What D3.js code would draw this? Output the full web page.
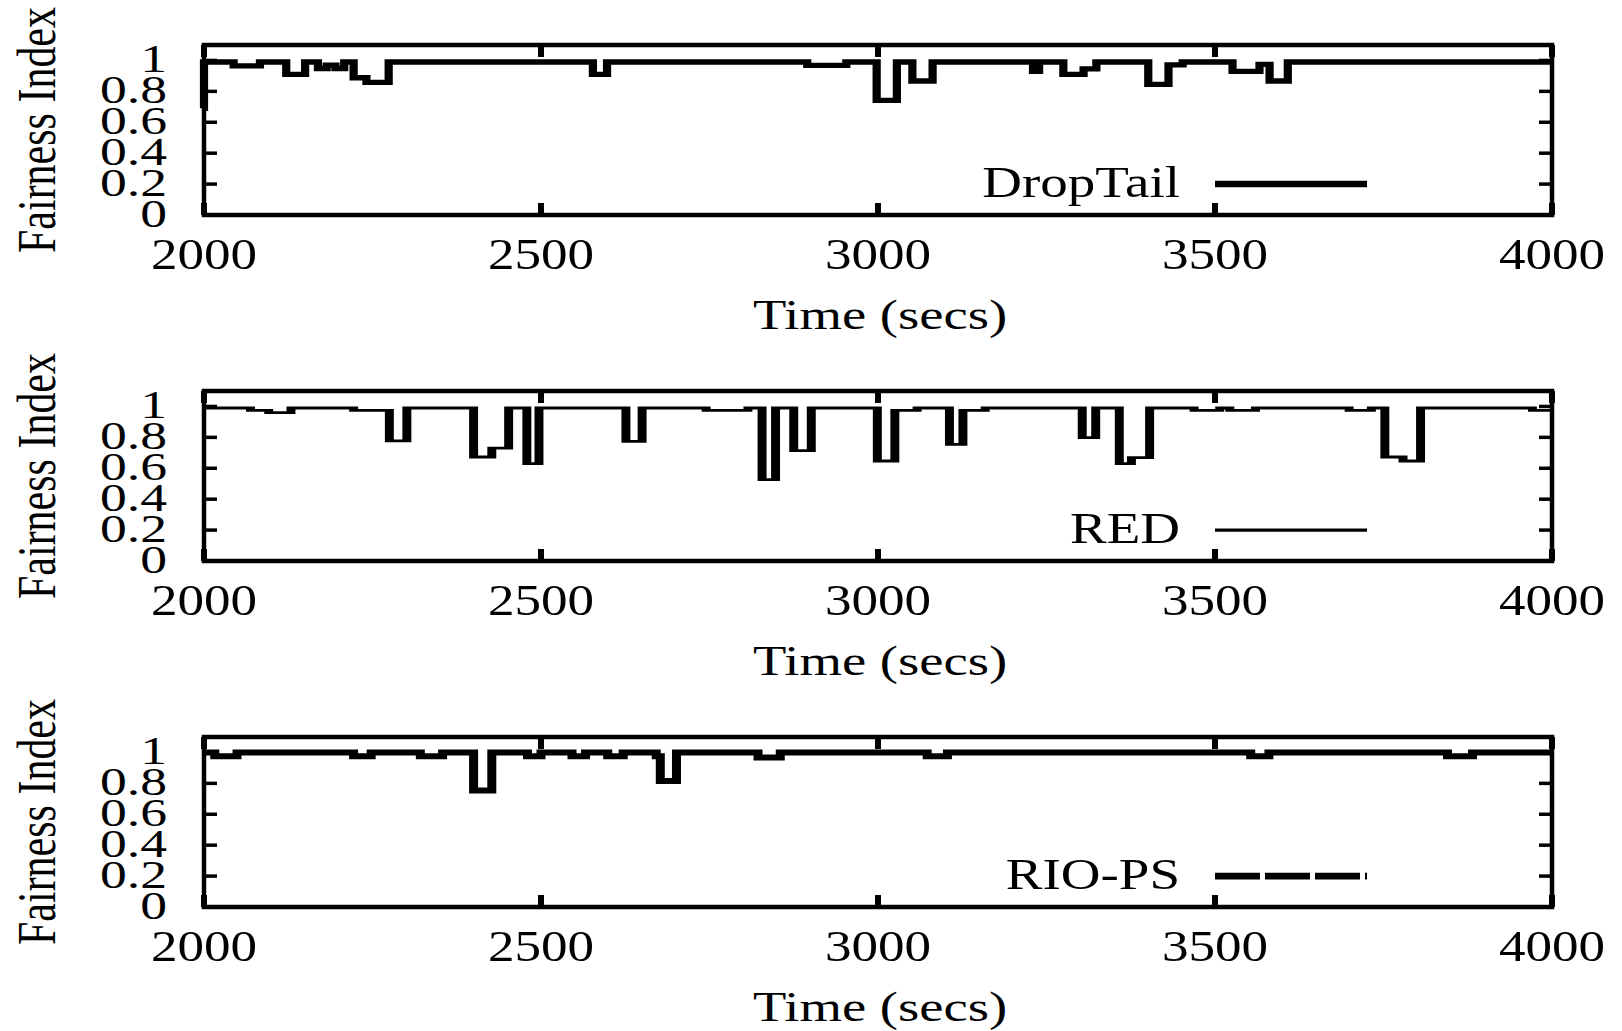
<!DOCTYPE html>
<html>
<head>
<meta charset="utf-8">
<script src="https://cdn.jsdelivr.net/npm/d3@7"></script>
<style>
  html, body { margin: 0; padding: 0; background: #fff; }
  svg { display: block; }
</style>
</head>
<body>
<svg id="chart" width="1622" height="1031"></svg>
<script>
// ---- axes ----
const xDomain = [2000, 4000];
const xTicks = [2000, 2500, 3000, 3500, 4000];
const xTickLabels = ["2000", "2500", "3000", "3500", "4000"];
const yDomain = [0, 1.1];
const yTicks = [0, 0.2, 0.4, 0.6, 0.8, 1];
const yTickLabels = ["0", "0.2", "0.4", "0.6", "0.8", "1"];
const xTitle = "Time (secs)";
const yTitle = "Fairness Index";

// ---- series: each value holds from its time until the next time ----
const seriesNames = ["DropTail", "RED", "RIO-PS"];

const dropTailTimes = [1997, 2000, 2044, 2083, 2122, 2150, 2169, 2182, 2195, 2208, 2222, 2241, 2274,
  2577, 2598, 2895, 2953, 2998, 3028, 3051, 3081, 3230, 3239, 3275, 3305, 3324, 3401, 3431, 3452,
  3526, 3566, 3581, 3608, 4000];
const dropTailValues = [0.69, 0.99, 0.965, 0.99, 0.91, 0.99, 0.948, 0.97, 0.948, 0.99, 0.888, 0.858, 0.99,
  0.91, 0.99, 0.968, 0.99, 0.742, 0.99, 0.867, 0.99, 0.929, 0.99, 0.91, 0.946, 0.99, 0.845, 0.972, 0.99,
  0.929, 0.975, 0.867, 0.99, 0.99];

const redTimes = [2000, 2069, 2096, 2129, 2222, 2275, 2301, 2400, 2427, 2452, 2479, 2497, 2626, 2650,
  2745, 2807, 2828, 2848, 2875, 2901, 2999, 3025, 3058, 3106, 3126, 3159, 3303, 3323, 3358, 3376, 3403,
  3469, 3507, 3522, 3560, 3699, 3732, 3752, 3779, 3805, 3971, 4000];
const redValues = [0.99, 0.975, 0.96, 0.99, 0.975, 0.777, 0.99, 0.673, 0.731, 0.99, 0.63, 0.99, 0.774, 0.99,
  0.975, 0.99, 0.526, 0.99, 0.714, 0.99, 0.647, 0.975, 0.99, 0.755, 0.975, 0.99, 0.798, 0.99, 0.63, 0.669, 0.99,
  0.975, 0.99, 0.975, 0.99, 0.975, 0.99, 0.673, 0.647, 0.99, 0.975, 0.975];

const rioTimes = [2000, 2016, 2049, 2222, 2248, 2321, 2354, 2400, 2427, 2480, 2500, 2546, 2566, 2599,
  2622, 2671, 2677, 2701, 2822, 2855, 3073, 3103, 3553, 3580, 3845, 3882, 4000];
const rioValues = [1.0, 0.975, 1.0, 0.975, 1.0, 0.975, 1.0, 0.754, 1.0, 0.975, 1.0, 0.975, 1.0, 0.975,
  1.0, 0.975, 0.816, 1.0, 0.968, 1.0, 0.975, 1.0, 0.975, 1.0, 0.975, 1.0, 1.0];

// ---- line styles (hw: horizontal stroke, k: extra weight of vertical strokes) ----
const styles = [
  { hw: 5.3, k: 1.55, keyDash: null, keyW: 6.5 },
  { hw: 2.8, k: 3.2, keyDash: null, keyW: 3.2 },
  { hw: 6.0, k: 1.5, keyDash: [45, 5], keyW: 6.8 }
];

const panels = [
  { name: seriesNames[0], data: d3.zip(dropTailTimes, dropTailValues), style: styles[0] },
  { name: seriesNames[1], data: d3.zip(redTimes, redValues), style: styles[1] },
  { name: seriesNames[2], data: d3.zip(rioTimes, rioValues), style: styles[2] }
];

// ---- layout ----
const plotLeft = 204, plotRight = 1552;
const firstTop = 45, panelStep = 346, panelH = 170;
const serif = "'Liberation Serif', 'Times New Roman', Times, serif";

const svg = d3.select("#chart");
const x = d3.scaleLinear().domain(xDomain).range([plotLeft, plotRight]);

panels.forEach((p, i) => {
  const top = firstTop + i * panelStep;
  const bottom = top + panelH;
  const y = d3.scaleLinear().domain(yDomain).range([bottom, top]);
  const g = svg.append("g").attr("class", "panel");

  // y ticks on both sides
  g.append("g").selectAll("line").data(yTicks).join("line")
    .attr("x1", plotLeft).attr("x2", plotLeft + 13)
    .attr("y1", d => y(d)).attr("y2", d => y(d))
    .attr("stroke", "#000").attr("stroke-width", 3.5);
  g.append("g").selectAll("line").data(yTicks).join("line")
    .attr("x1", plotRight - 13).attr("x2", plotRight)
    .attr("y1", d => y(d)).attr("y2", d => y(d))
    .attr("stroke", "#000").attr("stroke-width", 3.5);

  // x ticks on top and bottom
  g.append("g").selectAll("line").data(xTicks).join("line")
    .attr("x1", d => x(d)).attr("x2", d => x(d))
    .attr("y1", bottom).attr("y2", bottom - 12)
    .attr("stroke", "#000").attr("stroke-width", 6);
  g.append("g").selectAll("line").data(xTicks).join("line")
    .attr("x1", d => x(d)).attr("x2", d => x(d))
    .attr("y1", top).attr("y2", top + 12)
    .attr("stroke", "#000").attr("stroke-width", 6);

  // frame
  g.append("rect")
    .attr("x", plotLeft).attr("y", top)
    .attr("width", plotRight - plotLeft).attr("height", panelH)
    .attr("fill", "none").attr("stroke", "#000").attr("stroke-width", 4.5);

  // y tick labels
  g.append("g").selectAll("text").data(yTicks).join("text")
    .attr("transform", d => `translate(167,${y(d) + 12}) scale(1.34,1)`)
    .attr("text-anchor", "end")
    .attr("font-family", serif).attr("font-size", 40)
    .text((d, j) => yTickLabels[j]);

  // x tick labels
  g.append("g").selectAll("text").data(xTicks).join("text")
    .attr("transform", d => `translate(${x(d)},${bottom + 54}) scale(1.18,1)`)
    .attr("text-anchor", "middle")
    .attr("font-family", serif).attr("font-size", 45)
    .text((d, j) => xTickLabels[j]);

  // axis titles
  g.append("text")
    .attr("transform", `translate(${(plotLeft + plotRight) / 2 + 2},${bottom + 114}) scale(1.3,1)`)
    .attr("text-anchor", "middle")
    .attr("font-family", serif).attr("font-size", 42)
    .text(xTitle);
  g.append("text")
    .attr("transform", `translate(55,${(top + bottom) / 2}) scale(1.3,1) rotate(-90)`)
    .attr("text-anchor", "middle")
    .attr("font-family", serif).attr("font-size", 42)
    .text(yTitle);

  // data: step line; the group is stretched horizontally so vertical strokes come out heavier
  const s = p.style;
  const xk = x.copy().range(x.range().map(v => v / s.k));
  const step = d3.line()
    .x(d => xk(d[0]))
    .y(d => y(d[1]))
    .curve(d3.curveStepAfter);
  g.append("g").attr("transform", `scale(${s.k},1)`)
    .append("path")
    .datum(p.data)
    .attr("d", step)
    .attr("fill", "none")
    .attr("stroke", "#000")
    .attr("stroke-width", s.hw)
    .attr("stroke-linejoin", "miter")
    .attr("stroke-linecap", "butt");

  // key
  const keyY = y(0.2);
  g.append("text")
    .attr("transform", `translate(1180,${keyY + 13}) scale(1.25,1)`)
    .attr("text-anchor", "end")
    .attr("font-family", serif).attr("font-size", 44)
    .text(p.name);
  g.append("line")
    .attr("x1", 1215).attr("x2", 1367)
    .attr("y1", keyY).attr("y2", keyY)
    .attr("stroke", "#000").attr("stroke-width", s.keyW)
    .attr("stroke-dasharray", s.keyDash ? s.keyDash.join(",") : null);
});
</script>
</body>
</html>
